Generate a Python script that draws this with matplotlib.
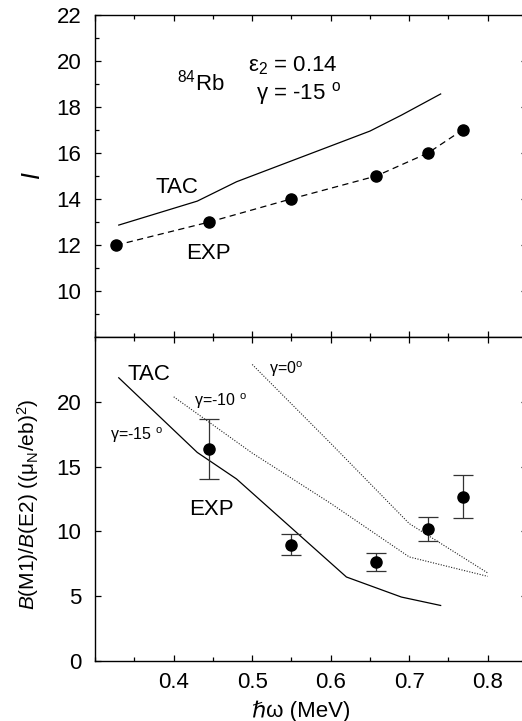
import matplotlib
matplotlib.use("Agg")
import matplotlib.pyplot as plt
from matplotlib.ticker import MultipleLocator

plt.rcParams['font.family'] = ['Liberation Sans', 'DejaVu Sans']
plt.rcParams['mathtext.fontset'] = 'custom'
plt.rcParams['mathtext.rm'] = 'Liberation Sans'
plt.rcParams['mathtext.it'] = 'Liberation Sans:italic'
plt.rcParams['mathtext.bf'] = 'Liberation Sans:bold'

# ---- data ----
omega_exp = [0.327, 0.445, 0.549, 0.658, 0.724, 0.768]
spin_exp = [12, 13, 14, 15, 16, 17]
omega_tac_spin = [0.33, 0.43, 0.48, 0.65, 0.69, 0.74]
spin_tac = [12.87, 13.91, 14.75, 16.95, 17.64, 18.56]

omega_ratio = [0.445, 0.549, 0.658, 0.724, 0.768]
ratio_exp = [16.35, 8.98, 7.63, 10.17, 12.68]
ratio_err = [2.3, 0.8, 0.68, 0.92, 1.65]

omega_g15 = [0.33, 0.43, 0.48, 0.62, 0.69, 0.74]
ratio_g15 = [21.87, 16.1, 14.05, 6.47, 4.92, 4.27]
omega_g10 = [0.40, 0.50, 0.60, 0.70, 0.80]
ratio_g10 = [20.4, 16.05, 12.16, 8.02, 6.52]
omega_g0 = [0.50, 0.60, 0.70, 0.80]
ratio_g0 = [22.9, 16.8, 10.6, 6.78]

spin_ticks = [10, 12, 14, 16, 18, 20, 22]
ratio_ticks = [0, 5, 10, 15, 20]
omega_ticks = [0.4, 0.5, 0.6, 0.7, 0.8]

FS = 16

# ---- figure ----
W, H = 522, 721
fig = plt.figure(figsize=(W / 100, H / 100), dpi=100)
left = 95.2 / W
width = 431.8 / W
ax1 = fig.add_axes([left, 1 - 337.3 / H, width, 322.6 / H])
ax2 = fig.add_axes([left, 1 - 660.7 / H, width, 323.4 / H])

for ax in (ax1, ax2):
    ax.set_xlim(0.3, 0.85)
    ax.xaxis.set_major_locator(MultipleLocator(0.1))
    ax.xaxis.set_minor_locator(MultipleLocator(0.05))
    ax.tick_params(which='both', direction='in', top=True, bottom=True,
                   left=True, right=True, labelsize=FS, width=0.9)
    ax.tick_params(which='major', length=4.2)
    ax.tick_params(which='minor', length=2.6, right=False)
    ax.tick_params(axis='y', pad=10)
    ax.tick_params(axis='x', pad=8)
    for s in ax.spines.values():
        s.set_linewidth(1.0)

# top panel
ax1.set_ylim(8, 22)
ax1.set_yticks(spin_ticks)
ax1.yaxis.set_minor_locator(MultipleLocator(1))
ax1.tick_params(labelbottom=False)
ax1.plot(omega_tac_spin, spin_tac, color='black', lw=0.9)
ax1.plot(omega_exp, spin_exp, color='black', lw=0.9, dashes=(5, 3.5),
         marker='o', markersize=8)
ax1.set_ylabel('$I$', fontsize=18, va='center')
ax1.yaxis.set_label_coords(-0.144, 0.5)

ax1.text(0.404, 18.7, r'$^{84}$Rb', fontsize=FS, ha='left', va='baseline')
ax1.text(0.552, 19.53, r'ε$_2$ = 0.14', fontsize=FS, ha='center', va='baseline')
ax1.text(0.559, 18.33, r'γ = -15 $^{\rm o}$', fontsize=FS, ha='center', va='baseline')
ax1.text(0.3765, 14.27, 'TAC', fontsize=FS, ha='left', va='baseline')
ax1.text(0.4156, 11.38, 'EXP', fontsize=FS, ha='left', va='baseline')

# bottom panel
ax2.set_ylim(0, 25)
ax2.set_yticks(ratio_ticks)
ax2.set_xticks(omega_ticks)
ax2.set_xticklabels(['0.4', '0.5', '0.6', '0.7', '0.8'])
ax2.plot(omega_g15, ratio_g15, color='black', lw=0.9)
ax2.plot(omega_g10, ratio_g10, color='#222222', lw=0.8, linestyle=(0, (1, 1.4)))
ax2.plot(omega_g0, ratio_g0, color='#222222', lw=0.8, linestyle=(0, (1, 1.4)))
ax2.errorbar(omega_ratio, ratio_exp, yerr=ratio_err, fmt='o', color='black',
             ecolor='#333333', elinewidth=0.9, capsize=7.2, capthick=0.9,
             markersize=8)

ax2.text(0.3415, 21.69, 'TAC', fontsize=FS, ha='left', va='baseline')
ax2.text(0.319, 17.08, r'γ=-15 $^{\rm o}$', fontsize=11.5, ha='left', va='baseline')
ax2.text(0.426, 19.72, r'γ=-10 $^{\rm o}$', fontsize=11.5, ha='left', va='baseline')
ax2.text(0.521, 22.13, r'γ=0$^{\rm o}$', fontsize=11.5, ha='left', va='baseline')
ax2.text(0.419, 11.26, 'EXP', fontsize=FS, ha='left', va='baseline')

ax2.set_ylabel(r'$B$(M1)/$B$(E2) ((μ$_{\rm N}$/eb)$^2$)', fontsize=15, va='center')
ax2.yaxis.set_label_coords(-0.156, 0.484)
ax2.set_xlabel('ℏω (MeV)', fontsize=FS, va='center')
ax2.xaxis.set_label_coords(0.476, -0.156)

fig.savefig('out.png', dpi=100)
